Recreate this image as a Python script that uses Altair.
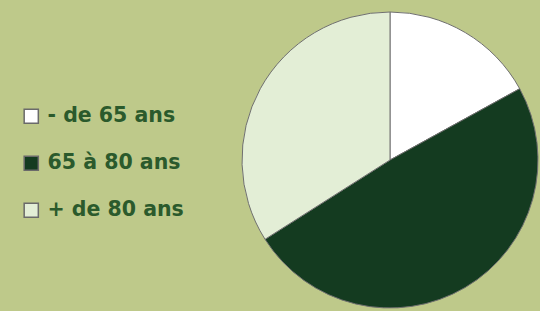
import altair as alt
import pandas as pd

categories = ["- de 65 ans", "65 à 80 ans", "+ de 80 ans"]
values = [17, 49, 34]
colors = ["#ffffff", "#143b20", "#e3eed6"]
order = [0, 1, 2]

df = pd.DataFrame({"cat": categories, "val": values, "ord": order})

BG = "#bec98a"

pie = alt.Chart(df).mark_arc(
    outerRadius=148, stroke="#707070", strokeWidth=1
).encode(
    theta=alt.Theta("val:Q", stack=True),
    order=alt.Order("ord:O"),
    color=alt.Color(
        "cat:N",
        scale=alt.Scale(domain=categories, range=colors),
        sort=categories,
        legend=alt.Legend(
            title=None,
            orient="none",
            legendX=21,
            legendY=106,
            symbolType="square",
            symbolSize=200,
            symbolStrokeColor="#6a6a6a",
            symbolStrokeWidth=1.5,
            labelFont="DejaVu Sans",
            labelFontWeight="bold",
            labelFontSize=20.5,
            labelColor="#2b5a2c",
            labelOffset=6,
            rowPadding=26,
            labelLimit=300,
        ),
    ),
    x=alt.value(390),
    y=alt.value(160),
)

chart = pie.properties(
    width=540, height=311, background=BG, padding=0,
    autosize=alt.AutoSizeParams(type="none"),
).configure_view(stroke=None)

chart.save("out.html", embed_options={
    "renderer": "svg", "actions": False,
    "defaultStyle": "body{margin:0;background:%s;overflow:hidden}" % BG,
})
